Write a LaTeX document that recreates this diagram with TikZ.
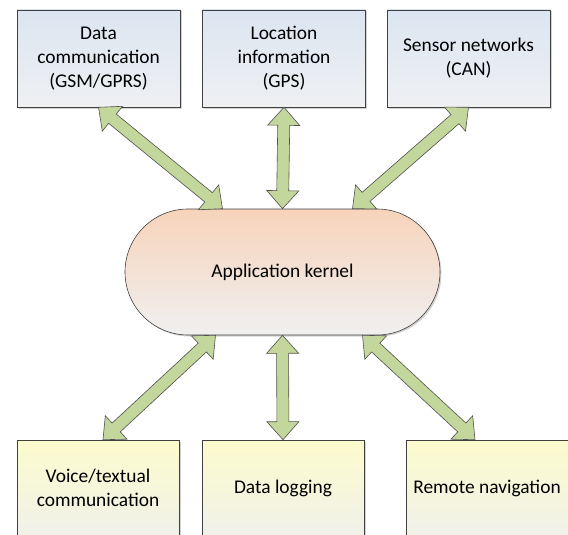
\documentclass[tikz,border=0pt]{standalone}
\usepackage{fontspec}
\setmainfont{Carlito}
\usetikzlibrary{calc,shapes.misc,shadows}
\definecolor{arrfill}{HTML}{C3D69B}
\definecolor{arrline}{HTML}{505050}
\definecolor{boxline}{HTML}{404040}
\newcommand{\blockarrow}[2]{%
  \coordinate (ha) at ($(#1)!18pt!(#2)$);
  \coordinate (hb) at ($(#2)!18pt!(#1)$);
  \draw[arr] (#1) -- ($(ha)!16pt!90:(#2)$) -- ($(ha)!6pt!90:(#2)$)
    -- ($(hb)!6pt!-90:(#1)$) -- ($(hb)!16pt!-90:(#1)$) -- (#2)
    -- ($(hb)!16pt!90:(#1)$) -- ($(hb)!6pt!90:(#1)$)
    -- ($(ha)!6pt!-90:(#2)$) -- ($(ha)!16pt!-90:(#2)$) -- cycle;}
\begin{document}
\begin{tikzpicture}[x=1pt,y=1pt,
  every node/.style={font=\fontsize{19.4}{24}\selectfont, align=center, inner sep=0pt},
  topbox/.style={draw=boxline, line width=0.6pt, minimum width=163pt, minimum height=97pt,
    top color=blue!3!white!80!cyan!10, bottom color=gray!10,
    drop shadow={shadow xshift=1.5pt, shadow yshift=-1.5pt, opacity=0.35}},
  botbox/.style={draw=boxline, line width=0.6pt, minimum width=162pt, minimum height=96pt,
    top color=yellow!25, bottom color=gray!12,
    drop shadow={shadow xshift=1.5pt, shadow yshift=-1.5pt, opacity=0.35}},
  kernel/.style={draw=boxline, line width=0.6pt, rounded rectangle, minimum width=315pt, minimum height=126pt,
    top color=orange!30!white!90!red, bottom color=gray!10,
    drop shadow={shadow xshift=1.5pt, shadow yshift=-1.5pt, opacity=0.35}},
  arr/.style={fill=arrfill, draw=arrline, line width=0.6pt, line join=miter}]
\clip (0,0) rectangle (568,-535);
\node[topbox, top color={rgb,255:red,219;green,229;blue,241}, bottom color={rgb,255:red,239;green,240;blue,242}] (d1) at (98.5,-58.5) {Data\\communication\\(GSM/GPRS)};
\node[topbox, top color={rgb,255:red,219;green,229;blue,241}, bottom color={rgb,255:red,239;green,240;blue,242}] (d2) at (284,-58.5) {Location\\information\\(GPS)};
\node[topbox, top color={rgb,255:red,219;green,229;blue,241}, bottom color={rgb,255:red,239;green,240;blue,242}] (d3) at (468.5,-58.5) {Sensor networks\\(CAN)};
\node[kernel, top color={rgb,255:red,247;green,211;blue,186}, bottom color={rgb,255:red,240;green,240;blue,240}] (k) at (282.5,-272) {Application kernel};
\node[botbox, top color={rgb,255:red,252;green,252;blue,205}, bottom color={rgb,255:red,240;green,240;blue,234}] (v) at (98,-488) {Voice/textual\\communication};
\node[botbox, top color={rgb,255:red,252;green,252;blue,205}, bottom color={rgb,255:red,240;green,240;blue,234}] (l) at (283,-488) {Data logging};
\node[botbox, top color={rgb,255:red,252;green,252;blue,205}, bottom color={rgb,255:red,240;green,240;blue,234}] (r) at (487,-488) {Remote navigation};
\coordinate (kt1) at ($(k.north)+(-60,0)$);
\coordinate (kt3) at ($(k.north)+(70,0)$);
\coordinate (kb1) at ($(k.south)+(-67,0)$);
\coordinate (kb3) at ($(k.south)+(80,0)$);
\coordinate (vt) at ($(v.north)+(5,0)$);
\coordinate (rt) at ($(r.north)+(-12,0)$);
\blockarrow{d1.south}{kt1}
\blockarrow{d2.south}{k.north}
\blockarrow{d3.south}{kt3}
\blockarrow{kb1}{vt}
\blockarrow{k.south}{l.north}
\blockarrow{kb3}{rt}
\end{tikzpicture}
\end{document}
